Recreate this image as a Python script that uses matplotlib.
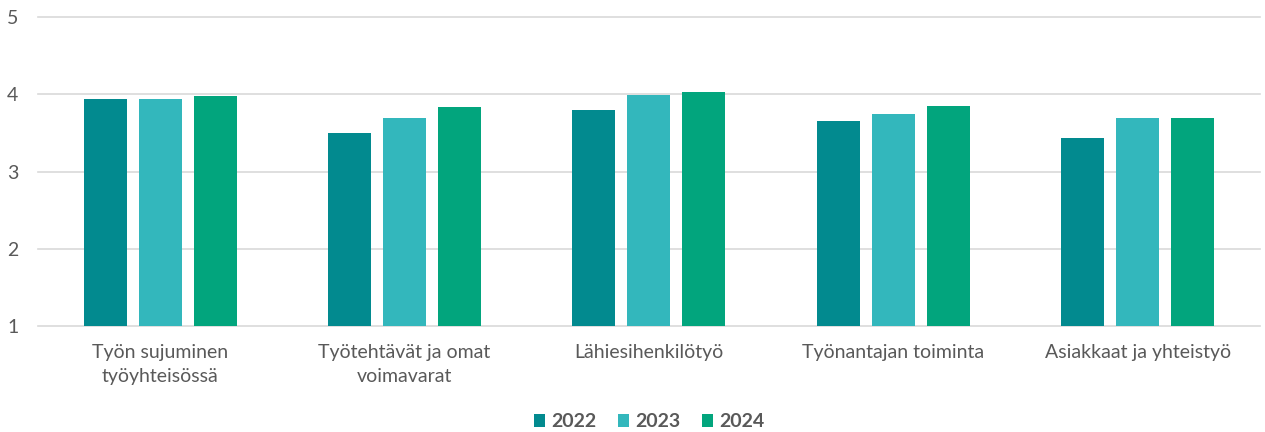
import matplotlib
matplotlib.use("Agg")
import matplotlib.pyplot as plt
import numpy as np

categories = ["Työn sujuminen\ntyöyhteisössä", "Työtehtävät ja omat\nvoimavarat",
              "Lähiesihenkilötyö", "Työnantajan toiminta", "Asiakkaat ja yhteistyö"]
years = ["2022", "2023", "2024"]
v2022 = [3.94, 3.50, 3.79, 3.65, 3.43]
v2023 = [3.94, 3.69, 3.99, 3.74, 3.69]
v2024 = [3.98, 3.83, 4.03, 3.85, 3.69]
colors = ["#028A8F", "#33B7BC", "#02A57D"]
yticks = [1, 2, 3, 4, 5]

plt.rcParams['font.family'] = ['Lato', 'DejaVu Sans']
fig = plt.figure(figsize=(12.65, 4.32), dpi=100)
ax = fig.add_axes([0.030, 0.2454, 0.966, 0.7152])

x = np.arange(len(categories))
w = 0.176
step = 0.225
for i, (vals, c, lab) in enumerate(zip([v2022, v2023, v2024], colors, years)):
    ax.bar(x + (i - 1) * step, np.array(vals) - 1, bottom=1, width=w, color=c,
           label=lab, zorder=3)

ax.set_xlim(-0.5, len(categories) - 0.5)
ax.set_ylim(1, 5)
ax.set_yticks(yticks)
ax.set_yticklabels([str(t) for t in yticks])
ax.grid(axis='y', color='#D9D9D9', linewidth=1.2, zorder=0)
for gl in ax.get_ygridlines():
    gl.set_clip_on(False)
for s in ax.spines.values():
    s.set_visible(False)
ax.tick_params(axis='y', length=0, pad=14, labelsize=14, labelcolor='#595959')
ax.tick_params(axis='x', length=0, pad=13, labelsize=14, labelcolor='#595959')
ax.set_xticks(x)
ax.set_xticklabels(categories, linespacing=1.5)

leg = ax.legend(loc='center', bbox_to_anchor=(0.5, -0.31), ncol=3, frameon=False,
                handlelength=0.6, handleheight=0.6, handletextpad=0.3,
                columnspacing=1.1, prop={'weight': 'bold', 'size': 14})
for t in leg.get_texts():
    t.set_color('#595959')

fig.savefig("out.png", dpi=100)
